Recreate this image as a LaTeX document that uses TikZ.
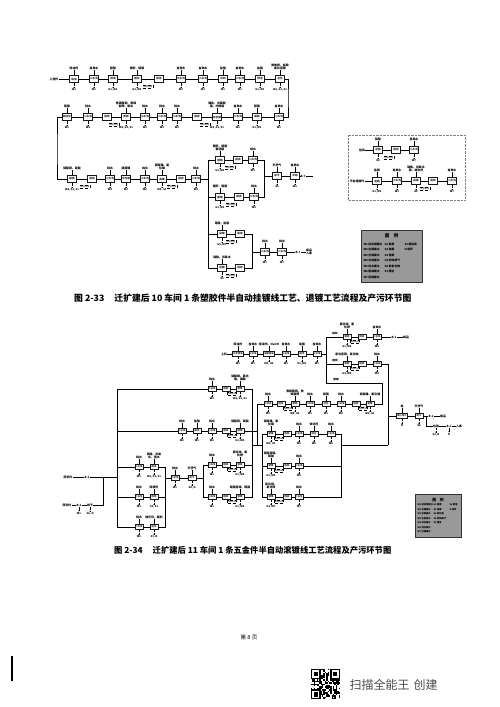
\documentclass[tikz,border=0pt]{standalone}
\usepackage{fontspec}
\newfontfamily\cjk{Noto Sans CJK SC}
\usetikzlibrary{arrows.meta,positioning}

\def\nolab{-}
% one row of process boxes: x / box text / chemicals above / emissions below
\newcommand{\procrow}[4][pbox]{%
  \foreach \x/\t/\u/\d [count=\i] in {#4}{%
    \node[#1] (#2\i) at (\x,#3) {\t};
    \ifx\u\nolab\else
      \node[uptxt, above=5pt of #2\i] (#2u\i) {\u};
      \draw[tick] (#2u\i) -- (#2\i);
      \node[dntxt, below=5.5pt of #2\i] (#2d\i) {\d};
      \draw[drip] (#2\i) -- (#2d\i);
    \fi
    \ifnum\i>1
      \pgfmathtruncatemacro\j{\i-1}
      \draw[link] (#2\j) -- (#2\i);
    \fi
  }%
}

\begin{document}
\begin{tikzpicture}[x=1pt, y=-1pt,
  pbox/.style={draw=black!90, line width=1pt, fill=white, minimum width=9pt,
               minimum height=6.5pt, inner sep=0.6pt, text=black!85,
               font=\cjk\bfseries\fontsize{2.6}{2.6}\selectfont},
  sbox/.style={pbox, line width=0.85pt, minimum width=8pt, minimum height=5pt,
               font=\cjk\bfseries\fontsize{2.3}{2.3}\selectfont},
  uptxt/.style={font=\cjk\bfseries\fontsize{2.9}{3.1}\selectfont, inner sep=0.3pt, align=center},
  dntxt/.style={font=\cjk\bfseries\fontsize{2.6}{2.8}\selectfont, inner sep=0.3pt, align=center},
  link/.style={line width=0.75pt},
  tick/.style={line width=0.5pt},
  drip/.style={densely dotted, line width=0.3pt, -{Stealth[length=1.3pt, width=1.2pt]}},
  rcyc/.style={draw, densely dashed, line width=0.25pt, inner sep=0.5pt,
               font=\cjk\fontsize{2.2}{2.2}\selectfont},
  legbox/.style={draw=black!80, line width=0.8pt, fill=black!40},
  legt/.style={font=\cjk\bfseries\fontsize{4.5}{4.5}\selectfont},
  legx/.style={font=\cjk\bfseries\fontsize{2.8}{3}\selectfont, inner sep=0.3pt, anchor=west},
  capt/.style={font=\cjk\bfseries\fontsize{8.8}{9}\selectfont, inner sep=0pt, anchor=west},
]
\useasboundingbox (0,0) rectangle (499,707);

%% Fig 2-33: plating line
\node[uptxt] (a0) at (54,79) {上挂件};
\procrow{a}{79}{74/除油/除油剂/W1, 94/二水洗/自来水/W1, 113/预浸/硫酸/{G1, W1},
  137/粗化/{铬酐、硫酸}/{G3, W3}, 159/回收/-/-, 181/三水洗/自来水/W3, 203/二水洗/自来水/W3,
  223/中和/盐酸/W1, 240/二水洗/自来水/W1, 260/预浸/盐酸/{G1, W1},
  280/活化/{胶体钯、盐酸\\氯化亚锡}/{W1, G1, S1}}
\draw[link] (a0) -- (a1);

\procrow{b}{117}{279/二水洗/自来水/W1, 257/解胶/硫酸/{G1, W1}, 238/二水洗/自来水/W1,
  217/化学镍/{镍盐、次磷酸\\钠、柠檬酸}/{W2, G1, S1}, 197/回收/-/-, 177/二水洗/纯水/W2,
  162/二水洗/纯水/W2, 145/三水洗/纯水/W2, 126/焦铜/{焦磷酸铜、焦磷\\酸钾、氨水}/{W4, G2, S1},
  107/回收/-/-, 88/二水洗/纯水/W4, 67/酸活化/硫酸/W1}
\coordinate (ab) at (288,98);
\draw[link] (a11) -| (ab) |- (b1);

\procrow{c}{179}{72/酸铜/{硫酸铜、硫酸}/{W4, G1, S1}, 92/回收/-/-, 110/二水洗/纯水/W4,
  126/半光镍/硫酸镍/W2, 145/二水洗/纯水/W2, 162/亮镍/{硫酸镍、氯\\化镍}/{W2, G1},
  181/回收/-/-, 196/二水洗/纯水/W2}
\coordinate (bc) at (57,150);
\draw[link] (b12) -| (bc) |- (c1);
\coordinate (cf) at (208,179);
\draw[link] (c8) -- (cf);

\procrow{d}{160}{220/镀铬/{铬酐、硫酸\\氟硅酸}/{G3, W3}, 238/回收/-/-, 253/二水洗/纯水/W3}
\procrow{e}{197}{220/镀铬/{铬酐、硫酸}/{G3, W3}, 239/回收/-/-, 254/二水洗/纯水/W3}
\procrow{f}{234}{222/退镀/{硝酸、盐酸}/{G5, W7}, 240/回收/-/-}
\procrow{g}{268}{222/退镀/{硝酸、双氧水}/G5, 240/回收/-/-}
\draw[link] (d1) -| (cf);
\draw[link] (e1) -| (cf);
\draw[link] (f1) -| (cf);
\draw[link] (g1) -| (cf);

\coordinate (dm) at (264,176);
\draw[link] (d3) -| (dm);
\draw[link] (e3) -| (dm);
\procrow{h}{176}{277/烘干/天然气/G4, 295/冷却/自来水/W1}
\draw[link] (dm) -- (h1);
\node[uptxt] (h3) at (303,176) {B-7};
\coordinate (h4) at (313,176);
\draw[link] (h2) -- (h3);
\draw[link] (h3) -- (h4);

\coordinate (fm) at (252,252);
\draw[link] (f2) -| (fm);
\draw[link] (g2) -| (fm);
\procrow{i}{252}{265/二水洗/纯水/W7, 282/二水洗/纯水/W7}
\draw[link] (fm) -- (i1);
\node[uptxt] (i3) at (298,252) {B-7};
\node[uptxt] (i4) at (309,252) {成品\\入库};
\draw[link] (i2) -- (i3);
\draw[link] (i3) -- (i4);

%% stripping line (inset)
\draw[densely dotted, black!50] (348,135) rectangle (465,200);
\node[uptxt] (j0) at (362,150) {挂具};
\procrow{j}{150}{378/退镀/硝酸/G5, 396/回收/-/-, 414/二水洗/自来水/W7}
\draw[link] (j0) -- (j1);
\node[uptxt] (k0) at (357,181) {不合格镀件};
\procrow{k}{181}{377/退铬/盐酸/{G1, W3}, 397/二水洗/自来水/W3,
  416/退镍/{硝酸、双氧水\\氨、络合剂}/G5, 433/回收/-/-, 452/二水洗/自来水/W7}
\draw[link] (k0) -- (k1);

\foreach \bx/\by [count=\n] in {148/87, 114/125, 205/125, 85/187, 172/187, 230/168,
  231/205, 231/242, 231/276, 389/158, 425/189}
  \node[rcyc] (rc\n) at (\bx,\by) {回收利用};

%% legend 2-33
\node[legbox, minimum width=61pt, minimum height=52pt] (lg1) at (391.5,256) {};
\node[legt] (lg1t) at (391.5,236) {图\quad 例};
\foreach \t [count=\n] in {W1 前处理废水, W2 含镍废水, W3 含铬废水, W4 含铜废水,
  W5 综合废水, W6 酸碱废水, W7 退镀废水}
  \node[legx] (lg1a\n) at (363,238.5+5.5*\n) {\t};
\foreach \t [count=\n] in {G1 酸雾, G2 碱雾, G3 铬雾, G4 燃烧废气, G5 氮氧化物, S1 槽渣}
  \node[legx] (lg1b\n) at (384,238.5+5.5*\n) {\t};
\foreach \t [count=\n] in {S2 废挂具, N 噪声}
  \node[legx] (lg1c\n) at (404,238.5+5.5*\n) {\t};

\node[capt] (cap1) at (74,298) {图 2-33\hspace{10pt}迁扩建后 10 车间 1 条塑胶件半自动挂镀线工艺、退镀工艺流程及产污环节图};

%% Fig 2-34: barrel plating line
\node[uptxt] (A0) at (224,354) {上料};
\procrow[sbox]{A}{354}{238/化学除油/除油剂/W1, 253/二水洗/自来水/W1,
  269/电解除油/{除油剂、NaOH}/{W1, G2}, 286/二水洗/自来水/W1, 302/酸洗/盐酸/{G1, W1},
  317/二水洗/自来水/W1}
\draw[link] (A0) -- (A1);
\coordinate (fk) at (326,354);
\draw[link] (A6) -- (fk);

\procrow[sbox]{B}{337}{347/镀锌/{氯化锌、氯\\化钾}/{G1, W5}, 362/回收/-/-, 377/二水洗/自来水/W5}
\procrow[sbox]{C}{364}{347/镀铜/{氰化亚铜、氰化钠}/{G4, W4}, 362/回收/-/-, 377/二水洗/纯水/W4}
\draw[link] (B1) -| (fk);
\draw[link] (C1) -| (fk);
\node[dntxt] (bl1) at (335,334) {镀锌};
\node[dntxt] (bl2) at (335,361) {镀铜};
\node[dntxt] (bl3) at (336,380) {镀镍};
\node[uptxt] (B4) at (394,337) {B-1};
\node[uptxt] (B5) at (406,337) {成品};
\draw[link] (B3) -- (B4);
\draw[link] (B4) -- (B5);

\procrow[sbox]{D}{404}{370/镀镍/{硫酸镍、氯化镍}/{W2, G1}, 356/回收/-/-, 341/二水洗/纯水/W2,
  326/活化/硫酸/W1, 310/二水洗/纯水/W1, 295/镀铜/{焦磷酸铜、焦\\磷酸钾}/{W4, G2},
  281/回收/-/-, 268/二水洗/纯水/W4}
\coordinate (fc) at (382,383);
\draw[link] (D1) -| (fc) -| (fk);
\coordinate (fl) at (257,445);
\draw[link] (D8) -| (fl);

\coordinate (fr) at (388,445);
\draw[link] (C3) -| (fr);
\coordinate (fe) at (388,416);
\procrow[sbox]{E}{416}{402/离心甩干/电/N, 419/烘干/天然气/G6}
\draw[link] (fe) -- (E1);
\node[uptxt] (E3) at (431,416) {B-1};
\node[uptxt] (E4) at (443,416) {成品};
\draw[link] (E2) -- (E3);
\draw[link] (E3) -- (E4);
\coordinate (ed) at (426,426);
\draw[link] (E2) -| (ed);
\node[uptxt] (E5) at (436,426) {包装};
\node[uptxt] (E6) at (449,426) {B-1};
\node[uptxt] (E7) at (459,426) {入库};
\draw[link] (ed) -- (E5);
\draw[link] (E5) -- (E6);
\draw[link] (E6) -- (E7);
\node[dntxt, below=5pt of E5] (E5d) {S2, N};
\draw[drip] (E5) -- (E5d);
\node[dntxt, below=5pt of E6] (E6d) {N};
\draw[drip] (E6) -- (E6d);

\procrow[sbox]{F}{434}{271/镀镍/{硫酸镍、氯\\化镍}/{W2, G1}, 287/回收/-/-, 299/二水洗/纯水/W2,
  314/钝化/钝化剂/W6, 331/二水洗/纯水/W6}
\procrow[sbox]{G}{466}{271/镀锡/{硫酸亚锡、\\硫酸}/{G1, W5}, 287/回收/-/-, 299/二水洗/纯水/W5}
\procrow[sbox]{H}{497}{271/镀银/{氰化银、\\氰化钾}/{G4, W7}, 287/回收/-/-, 299/二水洗/纯水/W7}
\coordinate (gl) at (262,466);
\draw[link] (fl) -- (fl -| gl);
\draw[link] (F1) -| (gl);
\draw[link] (G1) -- (gl);
\draw[link] (H1) -| (gl);
\coordinate (gr) at (341,445);
\draw[link] (F5) -| (gr);
\draw[link] (G3) -| (gr);
\draw[link] (H3) -| (gr);
\draw[link] (gr) -- (fr);

%% feed side
\node[uptxt] (in1) at (68,477) {原料件};
\node[uptxt] (in2) at (87,477) {B-1};
\draw[link] (in1) -- (in2);
\coordinate (jl) at (117,477);
\draw[link] (in2) -- (jl);
\node[uptxt] (in3) at (67,505) {原料件};
\node[uptxt] (in4) at (79,505) {B-1};
\node[uptxt] (in5) at (90,505) {烘干};
\draw[link] (in3) -- (in4);
\draw[link] (in4) -- (in5);
\coordinate (jm) at (103,477);
\draw[link] (in5) -| (jm);
\node[dntxt, below=5pt of in4] (in4d) {W1};
\draw[drip] (in4) -- (in4d);
\node[dntxt, below=5pt of in5] (in5d) {G6, N};
\draw[drip] (in5) -- (in5d);

\procrow[sbox]{I}{389}{212/二水洗/纯水/W2, 226/回收/-/-, 240/镀镍/{硫酸镍、氯化\\镍、硼酸}/{W2, G1, S1}}
\procrow[sbox]{J}{431}{182/二水洗/纯水/W1, 197/酸洗/盐酸/W1, 212/二水洗/纯水/W1, 226/回收/-/-,
  240/镀铜/{硫酸铜、硫酸}/{G1, W4}}
\procrow[sbox]{K}{467}{139/二水洗/纯水/W1, 154/酸洗/{硫酸、双氧\\水、氨水}/{W1, G1, S1}}
\procrow[sbox]{L}{497}{139/二水洗/纯水/W1, 154/除锈/除锈剂/{G1, S1}}
\procrow[sbox]{M}{527}{139/二水洗/纯水/W1, 154/抛光/{抛光剂、磨料}/{S1, N}}
\draw[link] (I1) -| (jl);
\draw[link] (J1) -| (jl);
\draw[link] (K1) -| (jl);
\draw[link] (L1) -| (jl);
\draw[link] (M1) -| (jl);
\coordinate (jk) at (165,478);
\draw[link] (K2) -| (jk);
\draw[link] (L2) -| (jk);
\draw[link] (M2) -| (jk);
\procrow[sbox]{N}{478}{175/二水洗/纯水/W1, 192/烘干/天然气/{G6, N}}
\draw[link] (jk) -- (N1);
\coordinate (jn) at (203,478);
\draw[link] (N2) -- (jn);
\procrow[sbox]{O}{465}{212/二水洗/纯水/W1, 226/回收/-/-, 240/镀锌/{氯化锌、氯\\化钾}/{G1, W5}}
\procrow[sbox]{Q}{497}{212/二水洗/纯水/W1, 226/回收/-/-, 240/镀锡/{硫酸亚锡、硫酸}/{G1, W5}}
\draw[link] (O1) -| (jn);
\draw[link] (Q1) -| (jn);
\coordinate (jr) at (252,445);
\draw[link] (I3) -| (jr);
\draw[link] (O3) -| (jr);
\draw[link] (Q3) -| (jr);
\draw[link] (J5) -- (J5 -| fl);
\draw[link] (jr) -- (fl);

\foreach \bx/\by [count=\n] in {355/342, 355/369, 363/409, 288/409, 279/439, 279/471,
  279/502, 232/394, 232/436, 232/470, 232/502}
  \node[rcyc, font=\cjk\fontsize{2}{2}\selectfont] (rd\n) at (\bx,\by) {回收利用};

%% legend 2-34
\node[legbox, minimum width=46pt, minimum height=43pt] (lg2) at (438,515.5) {};
\node[legt, font=\cjk\bfseries\fontsize{3.8}{3.8}\selectfont] (lg2t) at (438,500) {图\quad 例};
\foreach \t [count=\n] in {W1 前处理废水, W2 含镍废水, W3 含铜废水, W4 含氰废水,
  W5 综合废水, W6 钝化废水, W7 含银废水}
  \node[legx, font=\cjk\bfseries\fontsize{2.3}{2.5}\selectfont] (lg2a\n) at (417,500.5+4.5*\n) {\t};
\foreach \t [count=\n] in {G1 酸雾, G2 碱雾, G4 氰化氢, G6 燃烧废气, S1 槽渣}
  \node[legx, font=\cjk\bfseries\fontsize{2.3}{2.5}\selectfont] (lg2b\n) at (433,500.5+4.5*\n) {\t};
\foreach \t [count=\n] in {S2 废渣, N 噪声}
  \node[legx, font=\cjk\bfseries\fontsize{2.3}{2.5}\selectfont] (lg2c\n) at (449,500.5+4.5*\n) {\t};

\node[capt, font=\cjk\bfseries\fontsize{8.3}{9}\selectfont] (cap2) at (114,550) {图 2-34\hspace{10pt}迁扩建后 11 车间 1 条五金件半自动滚镀线工艺流程及产污环节图};

%% page foot
\node[font=\cjk\fontsize{5.5}{5.5}\selectfont] (pg) at (249,637) {第\ 8\ 页};
\draw[line width=1.2pt] (12,656) -- (12,681);
\begin{scope}[shift={(311,669)}]
  \pgfmathsetseed{17}
  \foreach \r in {0,...,20}{\foreach \c in {0,...,20}{
    \pgfmathrandominteger{\b}{0}{1}
    \ifnum\b=1 \fill (\c*1.38,\r*1.45) rectangle ++(1.38,1.45); \fi}}
  \foreach \fx/\fy in {0/0, 14/0, 0/14}{
    \fill ({\fx*1.38},{\fy*1.45}) rectangle ++(7*1.38,7*1.45);
    \fill[white] ({(\fx+1)*1.38},{(\fy+1)*1.45}) rectangle ++(5*1.38,5*1.45);
    \fill ({(\fx+2)*1.38},{(\fy+2)*1.45}) rectangle ++(3*1.38,3*1.45);}
\end{scope}
\node[font=\cjk\fontsize{12}{12}\selectfont, text=black!70, anchor=west] (wm) at (346,685) {扫描全能王\hspace{4pt}创建};
\end{tikzpicture}
\end{document}
